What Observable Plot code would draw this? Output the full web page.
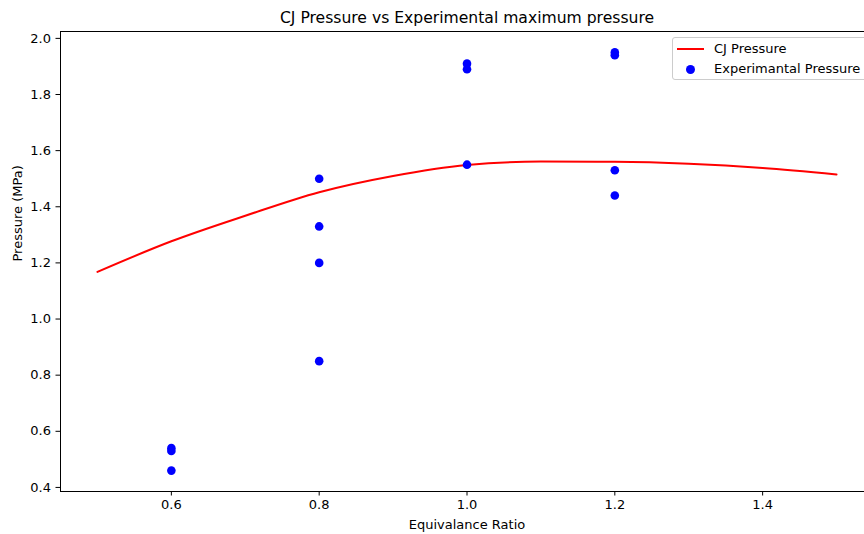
<!DOCTYPE html>
<html>
<head>
<meta charset="utf-8">
<script src="https://cdn.jsdelivr.net/npm/d3@7"></script>
<script src="https://cdn.jsdelivr.net/npm/@observablehq/plot@0.6"></script>
<style>
  html, body { margin: 0; padding: 0; background: #fff; overflow: hidden; }
  #wrap { position: relative; width: 864px; height: 534px; overflow: hidden; font-family: "DejaVu Sans", sans-serif; }
  #chart svg { max-width: none !important; width: 960px; height: 534px; }
  #legend { position: absolute; left: 672px; top: 37px; width: 200px; height: 43px; box-sizing: border-box;
    border: 1px solid #cccccc; border-radius: 3px; background: rgba(255,255,255,0.8); font-size: 13px; color: #000; }
  .row { position: absolute; left: 0; height: 16px; line-height: 16px; }
  .sw-line { position: absolute; left: 4px; top: 7px; width: 27px; height: 2px; background: #ff0000; }
  .sw-dot { position: absolute; left: 13px; top: 4px; width: 9px; height: 9px; border-radius: 50%; background: #0000ff; }
  .lab { position: absolute; left: 41px; top: 0; white-space: nowrap; }
</style>
</head>
<body>
<div id="wrap">
  <div id="chart"></div>
  <div id="legend">
    <div class="row" style="top:3px"><span class="sw-line"></span><span class="lab">CJ Pressure</span></div>
    <div class="row" style="top:23px"><span class="sw-dot"></span><span class="lab">Experimantal Pressure</span></div>
  </div>
</div>
<script>
// CJ pressure curve
const cjPhi = [0.5, 0.6, 0.7, 0.8, 0.9, 1.0, 1.1, 1.2, 1.3, 1.4, 1.5];
const cjPressure = [1.168, 1.277, 1.368, 1.452, 1.510, 1.549, 1.561, 1.560, 1.553, 1.538, 1.515];

// Experimental maximum pressure
const expPhi = [0.6, 0.6, 0.6, 0.8, 0.8, 0.8, 0.8, 1.0, 1.0, 1.0, 1.2, 1.2, 1.2, 1.2];
const expPressure = [0.54, 0.53, 0.46, 1.50, 1.33, 1.20, 0.85, 1.91, 1.89, 1.55, 1.95, 1.94, 1.53, 1.44];

const xTicks = [0.6, 0.8, 1.0, 1.2, 1.4];
const yTicks = [0.4, 0.6, 0.8, 1.0, 1.2, 1.4, 1.6, 1.8, 2.0];

const titleText = "CJ Pressure vs Experimental maximum pressure";
const xLabel = "Equivalance Ratio";
const yLabel = "Pressure (MPa)";

const cj = cjPhi.map((x, i) => ({x, y: cjPressure[i]}));
const exp = expPhi.map((x, i) => ({x, y: expPressure[i]}));

const chart = Plot.plot({
  width: 960,
  height: 534,
  marginLeft: 60,
  marginRight: 87,
  marginTop: 31,
  marginBottom: 43,
  style: { fontFamily: "DejaVu Sans, sans-serif", fontSize: "13px", color: "#000", background: "#fff", maxWidth: "none" },
  x: { domain: [0.45, 1.55] },
  y: { domain: [0.3855, 2.0245] },
  marks: [
    Plot.axisX({ ticks: xTicks, tickFormat: d3.format(".1f"), tickSize: 4.5, tickPadding: 4, label: null, fontSize: 13 }),
    Plot.axisY({ ticks: yTicks, tickFormat: d3.format(".1f"), tickSize: 4.5, tickPadding: 5, label: null, fontSize: 13 }),
    Plot.line(cj, { x: "x", y: "y", stroke: "#ff0000", strokeWidth: 2, curve: "monotone-x" }),
    Plot.dot(exp, { x: "x", y: "y", r: 4.3, fill: "#0000ff", stroke: null }),
    Plot.frame({ stroke: "#000", strokeWidth: 1 }),
    Plot.text([titleText], { frameAnchor: "top", dy: -14, lineAnchor: "middle", fontSize: 15.6, fill: "#000" }),
    Plot.text([xLabel], { frameAnchor: "bottom", dy: 33, lineAnchor: "middle", fontSize: 13, fill: "#000" }),
    Plot.text([yLabel], { frameAnchor: "left", dx: -43, rotate: -90, lineAnchor: "middle", fontSize: 13, fill: "#000" })
  ]
});
document.getElementById("chart").appendChild(chart);
</script>
</body>
</html>
